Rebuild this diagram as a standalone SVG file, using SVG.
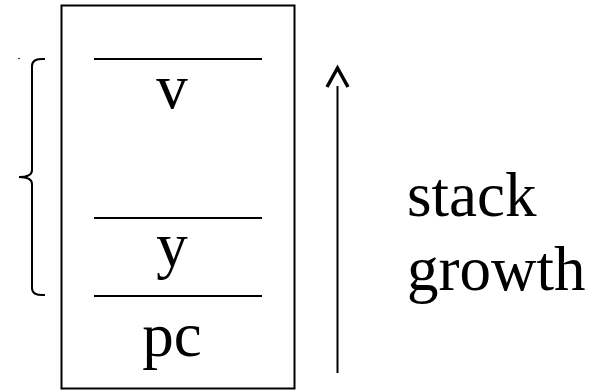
<svg xmlns="http://www.w3.org/2000/svg" width="605" height="392" viewBox="0 0 605 392">
<style>
.l{stroke:#000;stroke-width:2;fill:none}
.t{font-family:"Liberation Serif",serif;font-size:63px;fill:#000}
.c{text-anchor:middle}
</style>
<rect width="605" height="392" fill="#fff"/>
<g id="frame">
<rect x="61.5" y="5.5" width="233" height="383" class="l"/>
</g>
<g id="v">
<line x1="94" y1="59" x2="262" y2="59" class="l"/>
<text x="172" y="108" class="t c">v</text>
</g>
<g id="y">
<line x1="94" y1="218" x2="262" y2="218" class="l"/>
<text x="172" y="266" class="t c">y</text>
</g>
<g id="pc">
<line x1="94" y1="296" x2="262" y2="296" class="l"/>
<text x="172" y="356" class="t c">pc</text>
</g>
<g id="brace">
<path d="M45 59 Q32 58 32 66 V170 Q32 177 19 177 Q32 177 32 184 V288 Q32 296 45 295" class="l"/>
<circle cx="19" cy="58.5" r="0.8" fill="#000"/>
</g>
<g id="label">
<text x="407" y="216" class="t">stack</text>
<text x="407" y="290" class="t">growth</text>
</g>
<g id="connectors">
<line x1="337.5" y1="373" x2="337.5" y2="86" class="l"/>
<path d="M327 87 L337.5 68 L348 87" class="l" style="stroke-width:3.5"/>
</g>
</svg>
